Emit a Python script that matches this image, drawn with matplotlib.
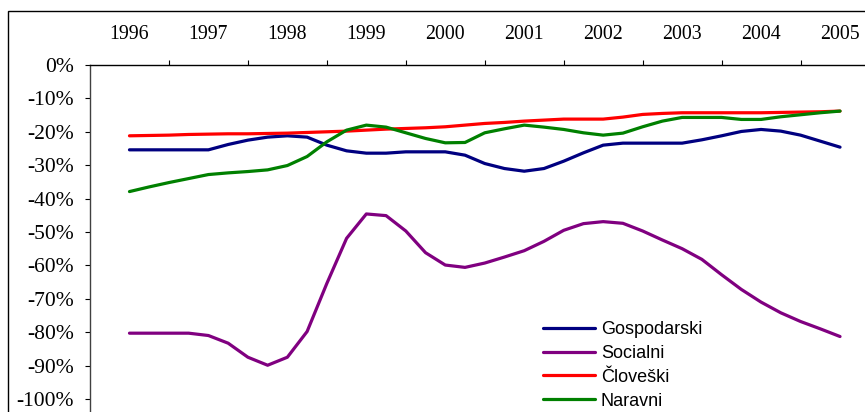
import matplotlib
matplotlib.use("Agg")
import matplotlib.pyplot as plt
from matplotlib.patches import Rectangle

# quarterly positions, 1996 .. 2005
years = list(range(1996, 2006))
quarters = [1996 + q / 4 for q in range(37)]

series = ["Gospodarski", "Socialni", "Človeški", "Naravni"]

gospodarski = [
    -25.4, -25.4, -25.4, -25.4, -25.4, -23.8, -22.5, -21.6, -21.2, -21.6,
    -24.0, -25.7, -26.4, -26.4, -26.0, -26.0, -26.0, -27.0, -29.5, -31.0,
    -31.8, -31.0, -28.8, -26.3, -24.0, -23.4, -23.4, -23.4, -23.4, -22.4,
    -21.2, -19.9, -19.3, -19.8, -21.0, -22.8, -24.6,
]
socialni = [
    -80.3, -80.3, -80.3, -80.3, -81.0, -83.3, -87.5, -89.9, -87.5, -79.8,
    -65.4, -51.9, -44.6, -45.1, -49.7, -56.2, -59.9, -60.6, -59.3, -57.5,
    -55.6, -52.8, -49.5, -47.5, -46.9, -47.4, -49.7, -52.4, -55.0, -58.2,
    -62.8, -67.2, -71.0, -74.2, -76.8, -79.0, -81.3,
]
cloveski = [
    -21.2, -21.1, -21.0, -20.8, -20.7, -20.6, -20.6, -20.5, -20.4, -20.2,
    -20.0, -19.8, -19.5, -19.2, -19.0, -18.8, -18.5, -18.0, -17.5, -17.2,
    -16.8, -16.5, -16.2, -16.2, -16.2, -15.6, -14.8, -14.5, -14.3, -14.3,
    -14.3, -14.3, -14.3, -14.2, -14.1, -14.0, -13.8,
]
naravni = [
    -37.9, -36.5, -35.2, -34.0, -32.8, -32.3, -31.9, -31.4, -30.1, -27.4,
    -23.0, -19.5, -18.0, -18.6, -20.3, -22.0, -23.3, -23.2, -20.3, -19.1,
    -18.0, -18.6, -19.3, -20.3, -21.0, -20.4, -18.5, -16.8, -15.7, -15.7,
    -15.7, -16.3, -16.3, -15.5, -14.9, -14.3, -13.8,
]

colors = ["#000080", "#800080", "#FF0000", "#008000"]
yticks = list(range(-100, 1, 10))

fig = plt.figure(figsize=(8.65, 4.12), dpi=100)
ax = fig.add_axes([90 / 865, 0, 789.5 / 865, 347 / 412])

for name, vals, c in zip(series, [gospodarski, socialni, cloveski, naravni], colors):
    ax.plot(quarters, vals, color=c, linewidth=2.3, label=name, solid_capstyle="round")

ax.set_xlim(1995.5, 2005.5)
ax.set_ylim(-103.9, 0)

# category axis on top: ticks between years, labels at the years
ax.xaxis.tick_top()
ax.set_xticks([y + 0.5 for y in years])
ax.set_xticklabels([])
ax.set_xticks(years, minor=True)
ax.set_xticklabels([str(y) for y in years], minor=True,
                   family="Liberation Serif", fontsize=14.3)
ax.tick_params(axis="x", which="major", direction="out", length=3.6, width=0.8)
ax.tick_params(axis="x", which="minor", length=0, pad=15)

ax.set_yticks(yticks)
ax.set_yticklabels([f"{v}%" for v in yticks], family="Liberation Serif", fontsize=15.5)
ax.tick_params(axis="y", direction="out", length=3.6, width=0.8, pad=8)

for s in ["right", "bottom"]:
    ax.spines[s].set_visible(False)
ax.spines["top"].set_linewidth(1.0)
ax.spines["left"].set_linewidth(1.0)
ax.spines["left"].set_color("#404040")

fig.legend(loc="upper left", bbox_to_anchor=(543 / 865, 1 - 321 / 412),
           frameon=False, borderpad=0, borderaxespad=0,
           handlelength=2.9, handletextpad=0.3, labelspacing=0.38,
           prop={"family": "Liberation Sans", "size": 13})

# outer chart frame
fig.patches.append(Rectangle((8 / 865, -0.1), 2, 1.1 - 11.5 / 412,
                             transform=fig.transFigure, fill=False,
                             edgecolor="black", linewidth=1.0))

fig.savefig("out.png", dpi=100)
